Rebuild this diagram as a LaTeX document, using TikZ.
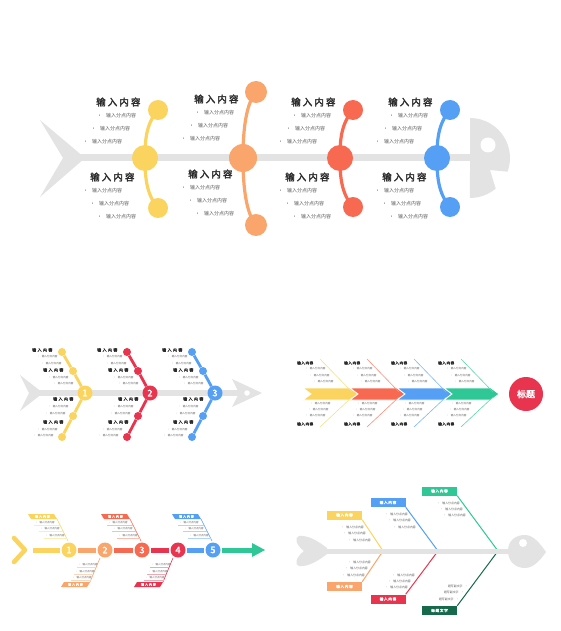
\documentclass[tikz,border=0pt]{standalone}
\usepackage{fontspec}
\setmainfont{Noto Sans CJK SC}[AutoFakeBold=2.5]
\newcommand{\mybul}[1]{•\hspace{0.8em}#1}
\newcommand{\mybr}[1]{#1\hspace{0.8em}•}
\definecolor{gy}{HTML}{E3E3E3}
\definecolor{cY}{HTML}{FAD45F}
\definecolor{cO}{HTML}{F9A56B}
\definecolor{cR}{HTML}{F76A51}
\definecolor{cB}{HTML}{559FF5}
\definecolor{cRd}{HTML}{E8344F}
\definecolor{cG}{HTML}{2EC795}
\definecolor{cDG}{HTML}{17694C}
\definecolor{tx}{HTML}{2B2B2B}
\definecolor{tg}{HTML}{5A5A5A}
\begin{document}
\begin{tikzpicture}[x=1pt,y=-1pt,
  blob/.style={circle,fill=#1,inner sep=0pt},
  T1/.style={inner sep=0pt,anchor=west,text=tx,font=\fontsize{9.5}{10}\selectfont\bfseries\addfontfeature{LetterSpace=22}},
  I1/.style={inner sep=0pt,anchor=west,text=tg,font=\fontsize{5}{6}\selectfont},
  T2/.style={inner sep=0pt,anchor=west,text=tx,font=\fontsize{4}{5}\selectfont\bfseries\addfontfeature{LetterSpace=35}},
  I2/.style={inner sep=0pt,anchor=west,text=tg,font=\fontsize{2.6}{3}\selectfont},
  T3/.style={inner sep=0pt,anchor=west,text=tx,font=\fontsize{3.6}{4}\selectfont\bfseries\addfontfeature{LetterSpace=15}},
  I3/.style={inner sep=0pt,anchor=west,text=tg,font=\fontsize{2.6}{3}\selectfont},
  L4/.style={inner sep=0pt,text=white,font=\fontsize{3}{3}\selectfont\bfseries\addfontfeature{LetterSpace=30}},
  I4/.style={inner sep=0pt,anchor=west,text=tg,font=\fontsize{2.5}{3}\selectfont},
  B5/.style={rectangle,inner sep=0pt,minimum width=35pt,minimum height=9pt,text=white,font=\fontsize{3.6}{4}\selectfont\bfseries\addfontfeature{LetterSpace=20}},
  I5/.style={inner sep=0pt,anchor=west,text=tg,font=\fontsize{2.9}{3}\selectfont},
  num/.style={circle,fill=#1,inner sep=0pt,text=white,font=\fontsize{9}{9}\selectfont\bfseries}
]
\fill[white] (0,0) rectangle (560,631);
\useasboundingbox (0,0) rectangle (560,631);

% ================= diagram 1 =================
\fill[gy] (40,120) -- (85,158) -- (40,197) -- (63,158) -- cycle;
\draw[gy,line width=7pt] (80,158) -- (471,158);
\fill[gy] (470,118) arc[start angle=-90,end angle=20,radius=40] -- (490,170) -- (495.7,188.6) arc[start angle=50,end angle=90,radius=40] -- cycle;
\node[blob=white,minimum size=15pt] (eye1) at (488,145) {};
\foreach \g/\mx/\ty/\by/\col/\dy/\ms/\ss in {1/145/110/208/cY/0/26/20, 2/243/92/225/cO/-3/28/22, 3/340/110/207/cR/0/26/20, 4/437/110/207/cB/0/26/20}{
  \node[blob=\col,minimum size=\ms pt] (m\g) at (\mx,158) {};
  \node[blob=\col,minimum size=\ss pt] (n\g) at (\mx+13,\ty) {};
  \node[blob=\col,minimum size=\ss pt] (o\g) at (\mx+13,\by) {};
  \draw[\col,line width=3.2pt] (n\g.center) .. controls (\mx+1,\ty+14) and (\mx,140) .. (m\g.center) .. controls (\mx,176) and (\mx+1,\by-14) .. (o\g.center);
  \node[T1] (ta\g) at (\mx-49,102+\dy) {输入内容};
  \node[I1] (ia\g) at (\mx-48,116+\dy) {\mybul{输入分点内容}};
  \node[I1] (ib\g) at (\mx-54,129+\dy) {\mybul{输入分点内容}};
  \node[I1] (ic\g) at (\mx-62,142+\dy) {\mybul{输入分点内容}};
  \node[T1] (tb\g) at (\mx-55,177+\dy) {输入内容};
  \node[I1] (id\g) at (\mx-62,191+\dy) {\mybul{输入分点内容}};
  \node[I1] (ie\g) at (\mx-55,204+\dy) {\mybul{输入分点内容}};
  \node[I1] (if\g) at (\mx-48,217+\dy) {\mybul{输入分点内容}};
}

% ================= diagram 2 =================
\fill[gy] (20,375) -- (43,393) -- (20,411) -- (29,393) -- cycle;
\draw[gy,line width=6pt] (38,393) -- (240,393);
\fill[gy] (232,379) -- (262,393) -- (232,407) -- (239,393) -- cycle;
\node[blob=white,minimum size=5.5pt] (hole2) at (247,393) {};
\foreach \g/\cx/\col in {1/85/cY,2/150/cRd,3/215/cB}{
  \node[num=\col,minimum size=15pt] (p\g) at (\cx,393) {\g};
  \node[blob=\col,minimum size=8pt] (q\g) at (\cx-12,371) {};
  \node[blob=\col,minimum size=8pt] (r\g) at (\cx-23,352) {};
  \node[blob=\col,minimum size=8pt] (s\g) at (\cx-12,416) {};
  \node[blob=\col,minimum size=8pt] (u\g) at (\cx-23,437) {};
  \draw[\col,line width=2.8pt] (r\g) -- (q\g) -- (p\g) -- (s\g) -- (u\g);
  \node[T2] (va\g) at (\cx-53,350) {输入内容};
  \node[I2] (vb\g) at (\cx-48,357) {\mybul{输入分点内容}};
  \node[I2] (vc\g) at (\cx-44,364) {\mybul{输入分点内容}};
  \node[T2] (vd\g) at (\cx-42,370) {输入内容};
  \node[I2] (ve\g) at (\cx-37,378) {\mybul{输入分点内容}};
  \node[I2] (vf\g) at (\cx-32,384) {\mybul{输入分点内容}};
  \node[T2] (vg\g) at (\cx-32,399) {输入内容};
  \node[I2] (vh\g) at (\cx-37,407) {\mybul{输入分点内容}};
  \node[I2] (vi\g) at (\cx-40,414) {\mybul{输入分点内容}};
  \node[T2] (vj\g) at (\cx-42,422) {输入内容};
  \node[I2] (vk\g) at (\cx-48,430) {\mybul{输入分点内容}};
  \node[I2] (vl\g) at (\cx-52,436) {\mybul{输入分点内容}};
}

% ================= diagram 3 =================
\foreach \i/\x/\col in {1/303/cY,2/350/cR,3/397/cB,4/444/cG}{
  \filldraw[fill=\col,draw=white,line width=0.8pt] (\x,388) -- (\x+47,388) -- (\x+55,394) -- (\x+47,400) -- (\x,400) -- (\x+8,394) -- cycle;
  \coordinate (ka\i) at (\x+17,359);
  \coordinate (kb\i) at (\x+49,392);
  \coordinate (kc\i) at (\x+49,397);
  \coordinate (kd\i) at (\x+17,427);
  \draw[\col!75,line width=0.6pt] (ka\i) -- (kb\i);
  \draw[\col!75,line width=0.6pt] (kc\i) -- (kd\i);
  \node[T3] (wa\i) at (\x-6,363) {输入内容};
  \node[I3] (wb\i) at (\x+2,369) {\mybul{输入分点内容}};
  \node[I3] (wc\i) at (\x+6,376) {\mybul{输入分点内容}};
  \node[I3] (wd\i) at (\x+10,382) {\mybul{输入分点内容}};
  \node[I3] (we\i) at (\x+7,404) {\mybul{输入分点内容}};
  \node[I3] (wf\i) at (\x+5,410) {\mybul{输入分点内容}};
  \node[I3] (wg\i) at (\x+2,416) {\mybul{输入分点内容}};
  \node[T3] (wh\i) at (\x-6,424) {输入内容};
}
\node[circle,fill=cRd,minimum size=34pt,inner sep=0pt,text=white,font=\fontsize{9}{9}\selectfont\bfseries] (title3) at (526,394) {标题};

% ================= diagram 4 =================
\draw[cY,line width=4.5pt,line cap=round,line join=round] (14,538) -- (25,550) -- (14,562);
\foreach \g/\cx/\col in {1/69/cY,2/105/cO,3/142/cR,4/178/cRd,5/213/cB}{
  \node[num=\col,minimum size=15pt] (w\g) at (\cx,550) {\g};
}
\coordinate (w0) at (33,550);
\coordinate (w6) at (254,550);
\draw[cY,line width=5pt,shorten >=1.5pt] (w0) -- (w1);
\draw[cO,line width=5pt,shorten >=1.5pt,shorten <=1.5pt] (w1) -- (w2);
\draw[cR,line width=5pt,shorten >=1.5pt,shorten <=1.5pt] (w2) -- (w3);
\draw[cRd,line width=5pt,shorten >=1.5pt,shorten <=1.5pt] (w3) -- (w4);
\draw[cB,line width=5pt,shorten >=1.5pt,shorten <=1.5pt] (w4) -- (w5);
\draw[cG,line width=5pt,shorten <=1.5pt] (w5) -- (w6);
\fill[cG] (252,543) -- (265,550) -- (252,557) -- cycle;
\foreach \g/\cx/\col in {1/69/cY,3/142/cR,5/213/cB}{
  \fill[\col] (\cx-41,514) -- (\cx-15,514) -- (\cx-12,519) -- (\cx-38,519) -- cycle;
  \node[L4] (lb\g) at (\cx-26.5,516.5) {输入内容};
  \coordinate (la\g) at (\cx-12,519);
  \coordinate (lz\g) at (\cx-1,541);
  \draw[\col,line width=0.6pt] (la\g) -- (lz\g);
  \node[I4] (lc\g) at (\cx-34,523) {\mybul{输入分点内容}};
  \node[I4] (ld\g) at (\cx-29,529) {\mybul{输入分点内容}};
  \node[I4] (le\g) at (\cx-24,535.5) {\mybul{输入分点内容}};
  \draw[\col!45,line width=0.3pt] (\cx-35,525.5) -- (\cx-8.75,525.5);
  \draw[\col!45,line width=0.3pt] (\cx-30,531.5) -- (\cx-5.75,531.5);
  \draw[\col!45,line width=0.3pt] (\cx-25,538) -- (\cx-2.5,538);
}
\foreach \g/\cx/\col in {2/105/cO,4/178/cRd}{
  \fill[\col] (\cx-41,582) -- (\cx-15,582) -- (\cx-18,587) -- (\cx-44,587) -- cycle;
  \node[L4] (lb\g) at (\cx-29.5,584.5) {输入内容};
  \coordinate (la\g) at (\cx-15,582);
  \coordinate (lz\g) at (\cx-5,558);
  \draw[\col,line width=0.6pt] (lz\g) -- (la\g);
  \node[I4] (lc\g) at (\cx-27,565) {\mybul{输入分点内容}};
  \node[I4] (ld\g) at (\cx-30,572) {\mybul{输入分点内容}};
  \node[I4] (le\g) at (\cx-33,578) {\mybul{输入分点内容}};
  \draw[\col!45,line width=0.3pt] (\cx-28,567.5) -- (\cx-9,567.5);
  \draw[\col!45,line width=0.3pt] (\cx-31,574.5) -- (\cx-11.9,574.5);
  \draw[\col!45,line width=0.3pt] (\cx-34,580.3) -- (\cx-14.3,580.3);
}

% ================= diagram 5 =================
\fill[gy] (327,548) .. controls (318,541) and (308,535) .. (299,536) .. controls (294,537) and (296,545) .. (304,551) .. controls (296,557) and (294,565) .. (299,566) .. controls (308,567) and (318,561) .. (327,554) -- cycle;
\node[B5,fill=cY] (x1) at (344.5,515) {输入内容};
\node[B5,fill=cB] (x2) at (388,502.5) {输入内容};
\node[B5,fill=cG] (x3) at (439.5,491) {输入内容};
\node[B5,fill=cO] (x4) at (344.5,586.5) {输入内容};
\node[B5,fill=cRd] (x5) at (388,599) {输入内容};
\node[B5,fill=cDG] (x6) at (439.5,610.5) {标题文字};
\coordinate (y1) at (383,551);
\coordinate (y2) at (438,551);
\coordinate (y3) at (498,551);
\draw[cY,line width=1pt] (x1.south east) -- (y1);
\draw[cB,line width=1pt] (x2.south east) -- (y2);
\draw[cG,line width=1pt] (x3.south east) -- (y3);
\draw[cO,line width=1pt] (x4.north east) -- (y1);
\draw[cRd,line width=1pt] (x5.north east) -- (y2);
\draw[cDG,line width=1pt] (x6.north east) -- (y3);
\draw[gy,line width=5pt] (322,551) -- (510,551);
\fill[gy] (508,551) .. controls (508,540) and (516,535) .. (525,535) .. controls (534,535) and (541,545) .. (546,552) .. controls (541,559) and (534,568) .. (525,568) .. controls (516,568) and (508,562) .. (508,551) -- cycle;
\node[blob=white,minimum size=8pt] (eye5) at (523,543) {};
\node[I5] (z1) at (341,527) {\mybul{输入分点内容}};
\node[I5] (z2) at (343,533) {\mybul{输入分点内容}};
\node[I5] (z3) at (348,540) {\mybul{输入分点内容}};
\node[I5] (z4) at (385,514) {\mybul{输入分点内容}};
\node[I5] (z5) at (388,520) {\mybul{输入分点内容}};
\node[I5] (z6) at (393,527) {\mybul{输入分点内容}};
\node[I5] (z7) at (437,503) {\mybul{输入分点内容}};
\node[I5] (z8) at (440,509) {\mybul{输入分点内容}};
\node[I5] (z9) at (443,515) {\mybul{输入分点内容}};
\node[I5] (z10) at (348,562) {\mybul{输入分点内容}};
\node[I5] (z11) at (345,568) {\mybul{输入分点内容}};
\node[I5] (z12) at (342,575) {\mybul{输入分点内容}};
\node[I5] (z13) at (392,575) {\mybul{输入分点内容}};
\node[I5] (z14) at (388,581) {\mybul{输入分点内容}};
\node[I5] (z15) at (385,587) {\mybul{输入分点内容}};
\node[I5,anchor=east] (z16) at (468,586) {\mybr{题写副文字}};
\node[I5,anchor=east] (z17) at (464,592) {\mybr{题写副文字}};
\node[I5,anchor=east] (z18) at (459,599) {\mybr{题写副文字}};
\end{tikzpicture}
\end{document}
